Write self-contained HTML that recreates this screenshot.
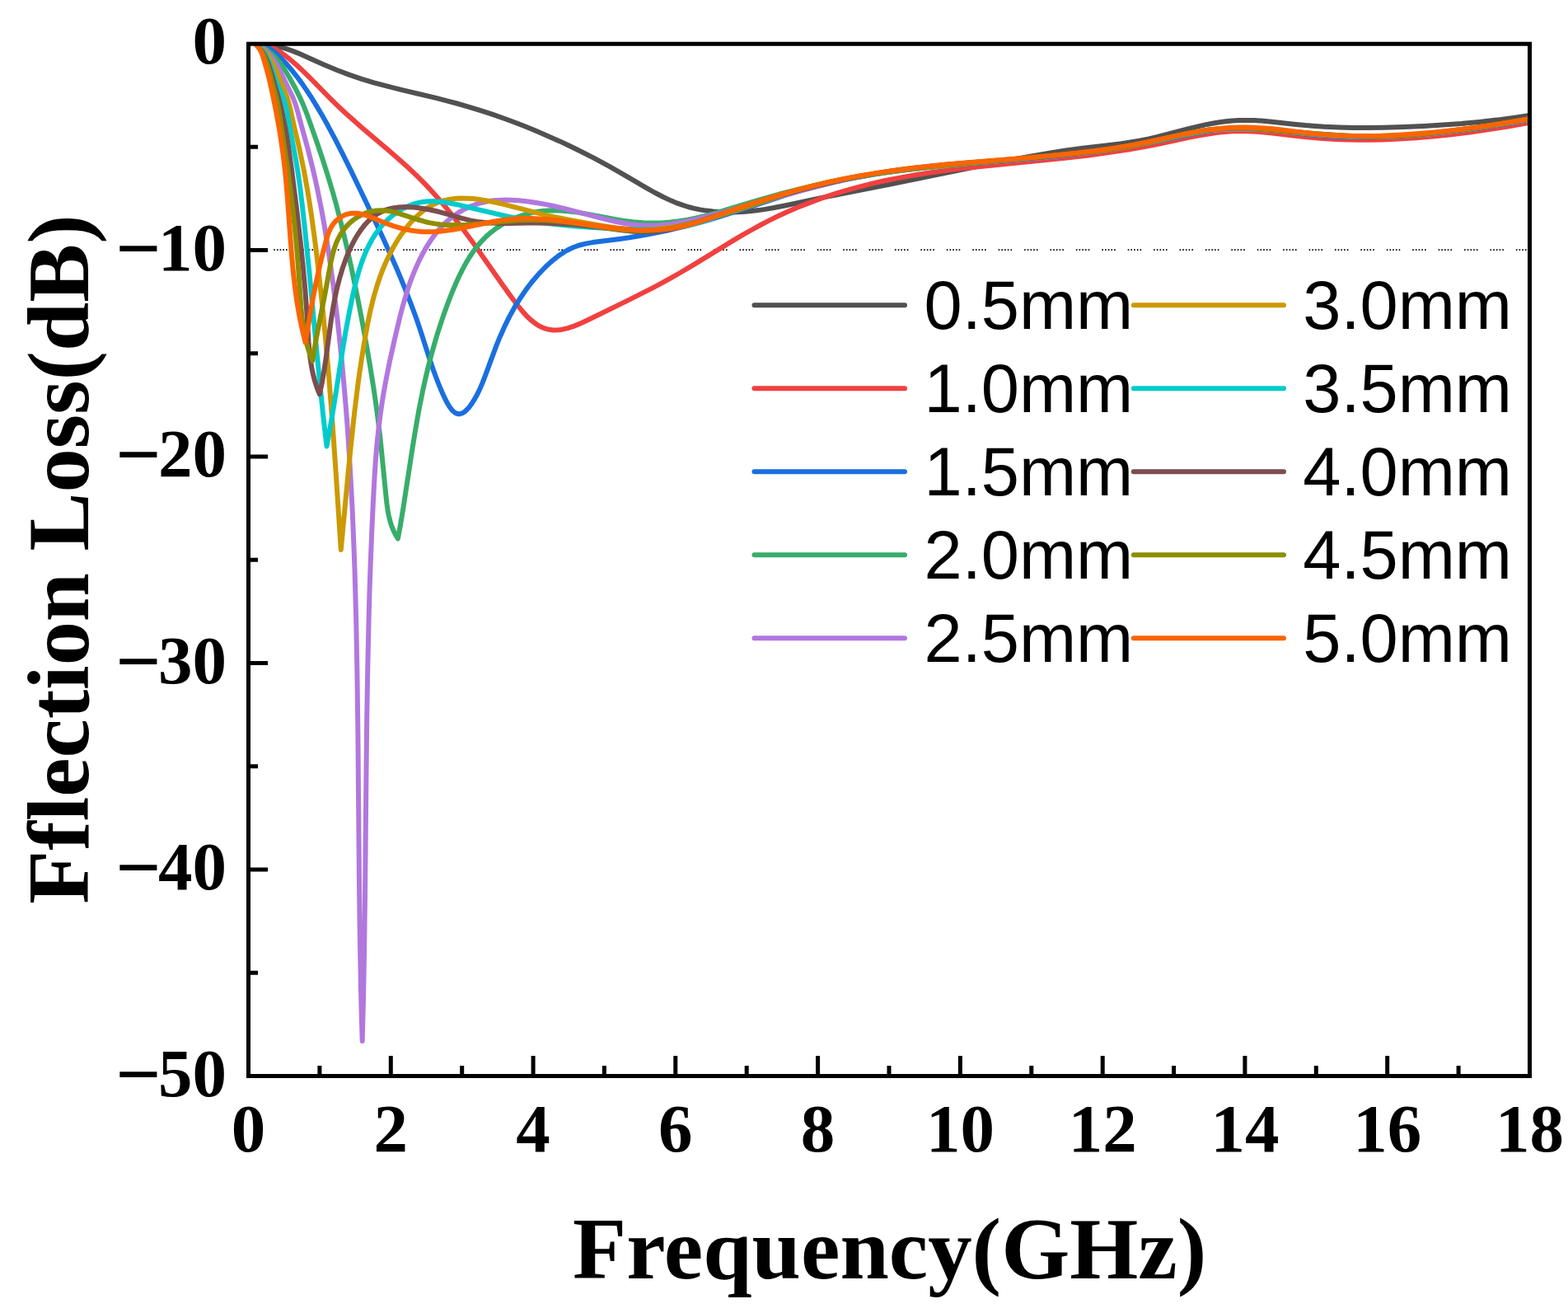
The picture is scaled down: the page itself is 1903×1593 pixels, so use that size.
<!DOCTYPE html>
<html lang="en"><head><meta charset="utf-8"><title>Reflection Loss vs Frequency</title>
<style>
html,body{margin:0;padding:0;background:#fff;}
body{width:1903px;height:1593px;overflow:hidden;}
svg{display:block;}
.tk{font-family:"Liberation Serif",serif;font-weight:bold;font-size:83px;fill:#000;}
.mn{font-size:97px;}
.ti{font-family:"Liberation Serif",serif;font-weight:bold;font-size:106.8px;fill:#000;}
.lg{font-family:"Liberation Sans",sans-serif;font-size:83px;fill:#000;}
.c{fill:none;stroke-width:6;stroke-linejoin:round;stroke-linecap:butt;}
</style></head><body>
<svg width="1903" height="1593" viewBox="0 0 1903 1593">
<rect x="0" y="0" width="1903" height="1593" fill="#fff"/>
<line x1="332.2" y1="303.1" x2="1854" y2="303.1" stroke="#000" stroke-width="1.8" stroke-dasharray="1.6,2.1,1.6,2.1,1.6,2.1,1.6,2.1,1.6,15.01"/>
<clipPath id="cp"><rect x="301.5" y="53" width="1555" height="1252.5"/></clipPath>
<g clip-path="url(#cp)">
<path class="c" stroke="#515151" d="M310.1,53.3 L314.2,53.2 L318.3,53.3 L322.4,53.6 L326.3,54.1 L330.3,54.7 L334.7,55.6 L339.0,56.6 L343.8,58.0 L352.3,60.8 L362.0,64.6 L370.8,68.4 L393.2,78.5 L409.4,85.2 L424.3,90.9 L439.0,95.8 L453.8,100.3 L470.2,104.7 L486.8,108.8 L530.2,119.2 L542.4,122.3 L554.5,125.5 L569.4,129.8 L584.2,134.4 L598.8,139.2 L613.9,144.5 L624.7,148.5 L635.8,152.8 L646.9,157.3 L657.9,161.9 L679.4,171.4 L690.2,176.5 L701.0,181.7 L720.6,191.6 L740.0,202.1 L756.1,211.3 L783.4,227.3 L794.3,233.5 L804.9,239.0 L814.8,243.6 L821.6,246.4 L828.6,248.9 L835.2,251.0 L842.5,252.9 L849.8,254.4 L857.2,255.6 L865.3,256.5 L873.3,257.2 L881.0,257.4 L888.6,257.5 L896.2,257.3 L904.3,256.8 L912.3,256.0 L920.3,255.1 L928.7,253.9 L938.1,252.3 L955.1,249.0 L986.7,242.2 L1003.8,238.6 L1081.5,223.4 L1194.1,200.3 L1216.6,195.9 L1237.8,191.9 L1266.3,186.9 L1292.0,182.8 L1314.3,179.8 L1347.1,176.0 L1359.5,174.4 L1372.3,172.5 L1384.1,170.5 L1393.4,168.6 L1404.1,166.1 L1441.5,156.3 L1456.2,152.8 L1464.0,151.1 L1471.3,149.7 L1478.7,148.5 L1485.7,147.6 L1495.1,146.6 L1504.0,146.1 L1513.0,145.9 L1522.0,146.1 L1530.9,146.6 L1540.9,147.4 L1572.8,150.9 L1584.3,152.1 L1595.7,153.0 L1607.7,153.8 L1624.7,154.5 L1642.2,154.9 L1660.2,155.0 L1679.7,154.7 L1703.7,154.0 L1728.2,153.0 L1751.1,151.6 L1773.6,150.0 L1795.5,147.9 L1816.4,145.6 L1836.7,142.9 L1856.5,139.9"/>
<path class="c" stroke="#F14040" d="M310.1,53.3 L314.8,53.5 L319.9,54.3 L324.7,55.6 L329.8,57.5 L334.7,59.9 L339.8,63.0 L345.1,66.7 L351.5,71.7 L359.8,78.8 L369.0,87.4 L377.9,96.2 L401.4,120.1 L409.6,128.1 L418.8,136.7 L428.1,145.1 L438.2,154.0 L470.9,181.8 L483.0,192.3 L494.5,202.6 L504.7,212.1 L510.8,218.1 L516.7,224.2 L522.6,230.4 L528.3,236.7 L534.3,243.5 L540.5,250.8 L552.8,266.1 L563.8,280.5 L575.6,296.6 L586.4,311.9 L609.7,345.2 L621.4,361.5 L628.9,371.4 L635.1,378.9 L639.8,384.0 L644.3,388.2 L648.7,391.7 L653.2,394.8 L657.5,397.0 L661.8,398.7 L666.2,399.8 L671.1,400.4 L674.2,400.5 L677.8,400.3 L681.0,399.9 L684.7,399.2 L688.3,398.3 L692.0,397.2 L696.2,395.8 L700.4,394.1 L706.5,391.5 L714.0,388.0 L761.2,364.9 L778.1,356.4 L791.0,349.9 L802.3,343.9 L813.2,337.9 L823.6,332.0 L842.8,320.6 L888.5,292.6 L900.2,285.7 L911.1,279.5 L922.1,273.5 L932.7,267.9 L943.0,262.8 L953.9,257.8 L967.7,251.8 L982.1,246.1 L996.7,240.7 L1011.8,235.6 L1026.6,231.1 L1042.0,226.8 L1057.5,222.9 L1073.6,219.3 L1092.2,215.6 L1111.3,212.2 L1132.1,209.0 L1153.9,206.1 L1173.3,203.8 L1195.2,201.4 L1267.6,194.3 L1294.4,191.5 L1321.2,188.4 L1345.4,185.1 L1369.1,181.5 L1391.7,177.5 L1409.4,174.0 L1443.8,166.6 L1458.6,163.8 L1473.0,161.5 L1479.9,160.6 L1486.3,159.9 L1495.7,159.3 L1504.7,159.0 L1514.6,159.2 L1525.1,159.7 L1534.0,160.4 L1544.0,161.4 L1578.0,165.4 L1590.9,166.8 L1605.4,168.1 L1620.4,169.0 L1634.3,169.5 L1648.8,169.8 L1663.3,169.8 L1678.2,169.5 L1698.2,168.6 L1718.7,167.3 L1739.6,165.5 L1761.5,163.2 L1783.9,160.4 L1807.2,157.1 L1831.4,153.2 L1856.5,148.8"/>
<path class="c" stroke="#1A6FDF" d="M310.1,53.3 L312.2,53.5 L314.8,53.9 L319.2,55.0 L321.5,55.9 L323.8,57.0 L328.0,59.5 L332.4,62.7 L337.0,66.6 L342.7,72.3 L348.8,78.9 L354.7,85.8 L360.6,93.3 L366.2,100.9 L372.2,109.6 L378.5,119.2 L385.0,129.9 L391.3,140.6 L397.9,152.3 L406.6,168.6 L415.9,186.8 L426.1,207.4 L443.1,242.7 L454.8,267.2 L464.6,288.2 L473.3,307.4 L481.4,325.7 L486.8,338.6 L492.1,351.6 L496.8,363.6 L501.4,375.7 L505.6,387.3 L509.6,398.9 L520.9,434.1 L525.8,448.5 L528.8,456.7 L531.6,464.0 L534.6,471.5 L537.7,478.4 L540.5,484.5 L543.0,489.3 L545.4,493.3 L547.7,496.4 L550.0,499.0 L552.2,500.7 L554.5,501.8 L556.5,502.2 L557.8,502.2 L558.9,502.0 L561.3,501.2 L563.7,499.7 L566.4,497.3 L569.4,494.0 L572.2,490.3 L575.1,485.7 L578.1,480.6 L581.8,473.1 L585.5,464.6 L588.8,456.1 L598.2,430.6 L602.6,418.9 L607.3,407.4 L612.0,396.9 L617.9,384.9 L624.3,373.2 L631.1,362.2 L638.1,351.9 L642.3,346.3 L646.3,341.2 L650.5,336.2 L654.9,331.3 L659.5,326.5 L663.8,322.2 L668.0,318.4 L672.2,314.8 L676.6,311.3 L680.7,308.4 L684.9,305.7 L688.8,303.5 L692.8,301.5 L696.8,299.8 L701.0,298.2 L705.2,297.0 L712.0,295.4 L719.3,294.1 L751.8,290.0 L763.7,288.3 L775.6,286.3 L786.9,284.3 L798.1,282.1 L809.3,279.8 L820.5,277.2 L832.6,274.3 L845.1,271.1 L857.6,267.6 L870.1,263.9 L893.0,256.7 L936.3,242.3 L954.4,236.4 L973.1,230.8 L990.0,226.1 L1001.1,223.3 L1012.8,220.6 L1024.5,218.1 L1036.7,215.7 L1049.0,213.5 L1061.8,211.3 L1075.2,209.3 L1088.6,207.5 L1113.9,204.4 L1141.3,201.6 L1173.3,198.8 L1237.2,193.7 L1263.5,191.5 L1291.4,188.7 L1316.7,185.8 L1330.5,183.9 L1344.4,181.9 L1358.7,179.5 L1374.0,176.9 L1400.6,171.9 L1447.2,162.6 L1462.0,159.8 L1475.8,157.7 L1488.2,156.4 L1498.1,155.8 L1508.1,155.6 L1519.1,155.9 L1530.7,156.5 L1540.7,157.3 L1551.7,158.5 L1585.9,162.7 L1597.8,164.0 L1609.3,165.1 L1619.7,165.8 L1631.7,166.2 L1644.2,166.4 L1658.8,166.4 L1674.3,166.0 L1695.8,165.1 L1717.7,163.8 L1740.2,161.9 L1762.6,159.6 L1785.4,156.7 L1808.7,153.4 L1832.4,149.6 L1856.5,145.3"/>
<path class="c" stroke="#37AD6B" d="M310.1,53.3 L313.5,54.7 L317.3,56.5 L320.3,58.3 L323.7,60.5 L326.9,62.9 L329.9,65.5 L332.7,68.2 L335.4,71.1 L338.0,74.1 L340.8,77.7 L343.4,81.3 L346.1,85.5 L351.8,95.0 L359.1,108.3 L363.6,117.3 L367.5,125.9 L371.6,136.1 L376.2,148.8 L384.4,171.9 L391.4,192.8 L397.6,212.3 L403.4,231.5 L408.1,248.3 L412.6,265.7 L417.2,284.2 L421.7,303.2 L426.1,323.2 L430.5,344.3 L435.2,367.4 L440.0,392.5 L445.1,420.5 L449.6,446.7 L453.6,471.9 L457.0,495.6 L459.2,512.5 L461.2,529.4 L463.1,547.8 L468.4,601.2 L469.5,611.2 L470.6,619.2 L471.6,624.6 L472.7,629.4 L474.0,634.2 L475.4,638.4 L477.0,642.5 L478.9,646.6 L480.8,650.1 L482.9,653.5 L486.2,635.6 L489.6,615.1 L500.0,547.2 L504.2,521.5 L508.5,496.9 L513.0,474.5 L516.2,459.9 L519.5,446.0 L523.0,432.5 L526.7,419.1 L530.5,406.2 L534.6,393.3 L538.8,381.0 L543.3,368.6 L548.1,356.2 L552.4,345.8 L556.8,336.0 L561.1,327.3 L565.4,319.3 L570.1,311.5 L574.8,304.5 L579.6,298.3 L584.8,292.3 L589.9,287.1 L595.4,282.3 L601.6,277.5 L607.7,273.5 L614.5,269.6 L621.5,266.1 L628.8,263.1 L634.4,261.2 L640.6,259.4 L646.9,257.9 L652.7,256.8 L659.1,256.0 L665.1,255.5 L671.0,255.3 L677.5,255.4 L683.0,255.7 L689.0,256.2 L695.5,256.9 L702.0,257.9 L715.1,260.1 L748.7,266.5 L758.7,268.1 L768.2,269.3 L780.1,270.2 L791.4,270.6 L802.7,270.4 L814.0,269.6 L824.2,268.3 L834.4,266.6 L845.1,264.5 L856.7,261.7 L866.3,259.1 L876.9,256.0 L915.0,244.4 L931.5,239.6 L951.8,234.0 L972.2,228.9 L990.3,224.8 L1008.4,220.9 L1027.0,217.3 L1045.7,214.0 L1064.9,210.9 L1084.2,208.1 L1103.5,205.6 L1123.8,203.3 L1142.8,201.4 L1163.7,199.5 L1237.6,193.4 L1267.0,190.8 L1296.8,187.8 L1324.6,184.4 L1350.3,180.8 L1374.9,176.7 L1397.1,172.5 L1431.5,165.1 L1445.8,162.3 L1460.1,159.8 L1473.4,157.9 L1484.3,156.8 L1494.7,156.2 L1505.6,156.0 L1517.6,156.2 L1528.5,156.8 L1541.0,157.7 L1554.0,158.9 L1593.9,162.9 L1607.9,164.0 L1621.4,164.9 L1637.8,165.7 L1653.8,166.0 L1669.8,166.1 L1685.7,165.7 L1703.2,164.9 L1721.2,163.7 L1740.1,161.9 L1760.0,159.7 L1780.4,157.1 L1802.8,153.8 L1827.0,150.0 L1856.5,145.1"/>
<path class="c" stroke="#B177DE" d="M310.1,53.3 L313.5,55.0 L317.1,57.1 L319.9,59.2 L323.0,61.8 L325.8,64.5 L328.4,67.5 L331.0,71.0 L333.5,74.7 L336.3,79.4 L339.1,84.7 L354.0,115.0 L356.0,119.5 L357.6,123.7 L359.2,128.4 L360.8,133.7 L366.0,153.0 L373.2,179.1 L378.5,199.9 L381.7,213.5 L384.8,227.7 L387.8,242.4 L390.7,257.1 L393.6,273.4 L396.4,290.2 L399.1,307.5 L401.7,325.8 L404.4,345.7 L407.0,366.5 L409.6,387.9 L411.9,409.3 L415.2,441.6 L418.2,474.9 L421.0,508.8 L423.4,543.2 L425.5,578.7 L427.5,615.6 L429.1,653.6 L430.6,693.6 L432.2,751.6 L433.4,814.7 L434.4,889.8 L435.8,1051.0 L436.6,1121.6 L437.9,1196.1 L438.7,1230.0 L439.7,1263.0 L441.1,1208.0 L442.2,1147.5 L443.1,1079.0 L444.5,935.9 L445.2,874.3 L446.3,809.3 L447.6,750.8 L448.6,713.8 L449.9,678.3 L451.3,643.9 L452.8,610.9 L454.3,583.0 L455.7,561.0 L457.3,541.1 L459.1,523.2 L461.6,502.8 L464.5,483.0 L468.3,461.7 L472.8,439.1 L479.1,410.8 L486.0,381.9 L488.5,372.4 L491.1,363.3 L493.7,354.8 L496.3,346.7 L498.8,339.6 L501.4,333.0 L504.1,326.4 L507.0,319.9 L509.8,313.9 L512.9,308.0 L515.8,302.6 L519.0,297.4 L522.3,292.3 L525.5,287.8 L529.1,283.0 L532.6,278.7 L536.3,274.7 L540.1,270.8 L544.1,267.2 L547.8,264.0 L551.8,261.1 L555.4,258.6 L559.2,256.3 L563.5,253.9 L567.5,252.0 L572.0,250.0 L576.6,248.3 L580.9,246.9 L585.2,245.8 L589.5,244.8 L594.0,244.0 L598.9,243.3 L603.9,242.9 L608.9,242.7 L613.9,242.6 L619.5,242.7 L630.0,243.3 L640.9,244.5 L652.3,246.2 L664.5,248.4 L675.2,250.8 L687.4,253.7 L725.6,263.7 L737.4,266.6 L749.3,269.3 L759.8,271.2 L765.7,272.1 L771.2,272.8 L776.6,273.3 L782.1,273.6 L787.5,273.7 L792.9,273.6 L798.8,273.4 L804.7,272.9 L814.1,271.9 L824.3,270.3 L835.1,268.2 L847.2,265.5 L858.9,262.5 L874.4,258.4 L954.5,236.1 L973.8,230.9 L990.8,226.5 L1010.6,221.6 L1029.1,217.4 L1046.7,213.8 L1063.4,210.7 L1079.1,208.1 L1096.0,205.8 L1113.8,203.6 L1132.7,201.6 L1150.2,199.9 L1169.7,198.3 L1239.3,193.3 L1267.2,191.1 L1296.0,188.3 L1321.8,185.3 L1345.0,182.0 L1366.6,178.3 L1385.8,174.4 L1421.2,166.5 L1435.9,163.4 L1451.2,160.6 L1465.0,158.6 L1476.9,157.4 L1489.3,156.7 L1502.7,156.4 L1516.7,156.7 L1529.6,157.2 L1543.6,158.1 L1602.9,163.2 L1617.9,164.3 L1631.4,165.1 L1645.8,165.8 L1659.8,166.1 L1673.3,166.1 L1686.7,165.8 L1703.2,165.0 L1720.2,163.8 L1738.1,162.1 L1757.1,160.0 L1776.5,157.4 L1797.3,154.4 L1820.1,150.9 L1856.5,145.0"/>
<path class="c" stroke="#CC9900" d="M310.1,53.3 L312.8,55.0 L315.4,56.8 L317.7,58.7 L320.3,61.2 L322.3,63.4 L324.5,66.0 L326.5,68.8 L328.6,72.2 L331.6,77.9 L334.5,84.2 L340.8,99.7 L346.0,112.2 L348.4,118.2 L350.3,124.4 L352.1,131.2 L356.8,152.7 L361.7,173.1 L364.2,184.3 L369.0,207.3 L373.3,231.5 L376.1,248.8 L378.8,267.1 L381.5,286.9 L384.3,308.8 L387.0,332.2 L389.7,356.6 L392.3,381.5 L394.7,406.9 L399.1,456.7 L403.4,512.1 L407.6,572.1 L413.8,667.0 L422.9,570.3 L426.1,538.5 L430.0,502.3 L434.0,469.6 L436.5,451.3 L439.1,434.0 L441.8,417.2 L444.6,401.4 L447.0,388.6 L449.5,376.8 L452.1,366.1 L454.8,356.0 L458.0,345.5 L461.3,335.5 L465.1,325.7 L469.0,316.6 L473.2,308.0 L477.7,299.5 L482.6,291.2 L487.7,283.6 L492.9,276.6 L498.5,269.9 L504.0,264.1 L509.5,259.1 L515.3,254.5 L520.9,250.8 L526.8,247.7 L529.8,246.3 L532.9,245.1 L537.9,243.5 L543.0,242.3 L548.6,241.4 L554.4,240.8 L560.3,240.6 L566.8,240.7 L573.3,241.1 L580.0,241.8 L586.1,242.7 L592.2,243.7 L598.9,245.0 L606.5,246.7 L621.0,250.3 L655.2,259.2 L664.2,261.4 L672.8,263.3 L693.1,267.3 L728.2,273.4 L739.2,275.2 L748.3,276.5 L756.8,277.5 L764.9,278.2 L772.4,278.6 L779.9,278.7 L787.3,278.5 L795.2,278.1 L807.5,276.8 L813.9,275.9 L820.8,274.8 L834.4,272.1 L848.9,268.6 L863.3,264.6 L879.6,259.6 L896.8,254.1 L944.3,238.3 L959.1,233.6 L972.0,229.8 L987.5,225.6 L1003.0,221.9 L1019.1,218.4 L1036.4,215.2 L1055.6,211.9 L1076.9,208.8 L1099.2,205.9 L1123.6,203.1 L1145.5,200.9 L1169.4,198.7 L1251.1,191.7 L1282.5,188.9 L1310.8,186.0 L1335.1,183.1 L1356.8,179.9 L1377.1,176.4 L1394.3,172.9 L1427.2,165.4 L1440.9,162.5 L1455.7,159.7 L1468.5,157.8 L1479.4,156.7 L1490.8,156.0 L1502.7,155.8 L1515.1,156.0 L1526.1,156.6 L1538.6,157.4 L1593.0,162.5 L1608.5,163.7 L1623.4,164.6 L1639.9,165.4 L1655.8,165.8 L1670.8,165.8 L1685.7,165.5 L1702.7,164.7 L1720.7,163.4 L1739.6,161.7 L1759.1,159.5 L1779.5,156.9 L1801.3,153.7 L1825.5,149.9 L1856.5,144.8"/>
<path class="c" stroke="#00CBCC" d="M310.1,53.3 L312.3,54.9 L314.3,56.6 L316.2,58.3 L318.2,60.6 L319.7,62.5 L321.5,64.9 L324.4,70.0 L326.3,74.0 L328.2,78.6 L333.6,94.3 L335.5,99.5 L342.2,114.7 L344.5,120.7 L346.5,127.4 L348.4,135.6 L352.5,158.9 L359.1,194.3 L361.8,210.6 L364.3,228.4 L367.0,250.7 L370.2,279.6 L375.7,333.3 L384.8,430.5 L388.5,468.4 L392.5,506.7 L396.5,541.5 L399.7,524.4 L403.0,505.5 L406.5,483.9 L416.5,420.3 L420.0,399.8 L423.4,381.6 L427.7,360.1 L431.7,343.0 L433.7,335.6 L435.6,328.6 L437.8,321.8 L440.0,315.5 L442.6,308.9 L445.4,302.4 L448.5,296.2 L451.6,290.5 L454.9,285.1 L458.6,279.9 L462.2,275.2 L466.2,270.8 L470.7,266.3 L475.2,262.5 L479.8,258.9 L484.7,255.6 L489.8,252.7 L494.7,250.4 L500.1,248.2 L505.2,246.6 L509.4,245.6 L513.2,244.9 L517.1,244.4 L521.4,244.2 L525.8,244.1 L530.3,244.4 L535.2,244.8 L540.2,245.5 L547.2,246.7 L554.8,248.2 L603.1,259.7 L616.7,262.7 L628.8,265.2 L641.5,267.5 L653.7,269.5 L666.6,271.2 L680.4,272.8 L695.4,274.2 L711.4,275.4 L728.9,276.5 L748.0,277.3 L771.7,278.2 L784.7,278.5 L796.2,278.4 L806.1,277.9 L816.0,276.9 L826.2,275.2 L836.8,272.9 L847.9,269.9 L856.9,267.1 L866.4,264.0 L902.9,250.9 L921.5,244.7 L943.5,237.8 L965.7,231.6 L984.6,226.7 L1004.0,222.2 L1023.6,218.0 L1043.7,214.1 L1063.4,210.8 L1083.6,207.7 L1103.9,205.0 L1125.8,202.5 L1145.2,200.6 L1167.2,198.6 L1242.6,192.5 L1272.5,189.9 L1302.3,186.9 L1329.5,183.6 L1354.2,180.0 L1377.9,176.0 L1398.1,172.0 L1432.0,164.5 L1445.3,161.8 L1459.1,159.2 L1471.9,157.3 L1482.8,156.2 L1493.2,155.5 L1504.1,155.3 L1515.6,155.6 L1526.5,156.2 L1538.5,157.1 L1551.5,158.3 L1590.4,162.5 L1603.4,163.6 L1616.9,164.5 L1633.3,165.2 L1649.8,165.6 L1666.3,165.6 L1683.2,165.3 L1701.7,164.5 L1721.2,163.1 L1741.1,161.4 L1761.5,159.1 L1782.9,156.4 L1805.7,153.1 L1829.9,149.3 L1856.5,144.7"/>
<path class="c" stroke="#7D4E4E" d="M310.1,53.3 L312.7,55.8 L315.1,58.5 L317.3,61.3 L319.5,64.6 L321.4,68.0 L323.2,71.5 L324.8,75.2 L326.4,79.4 L329.3,88.4 L337.4,116.4 L339.4,123.7 L341.3,131.0 L342.9,138.3 L346.3,155.4 L348.2,166.3 L350.1,178.1 L353.9,204.9 L360.4,256.6 L365.2,298.3 L368.0,325.7 L370.3,351.1 L372.2,376.6 L374.5,414.7 L375.4,424.7 L376.4,433.6 L377.3,440.0 L378.3,445.9 L379.4,451.8 L380.8,457.6 L382.4,463.4 L384.1,468.6 L386.0,473.8 L387.9,478.5 L390.9,464.0 L393.6,448.1 L395.9,432.3 L401.8,388.7 L403.9,375.5 L406.0,363.8 L408.9,350.2 L412.1,337.6 L415.7,325.6 L419.8,314.0 L422.6,307.2 L425.3,301.0 L428.3,294.9 L431.2,289.5 L434.4,284.2 L437.5,279.6 L440.8,275.2 L443.9,271.5 L447.3,268.0 L450.8,264.8 L454.5,261.9 L458.4,259.3 L462.1,257.3 L465.9,255.5 L469.9,254.1 L474.5,252.9 L478.3,252.2 L482.7,251.6 L487.2,251.2 L491.7,251.1 L496.3,251.2 L501.5,251.5 L506.7,252.0 L512.0,252.7 L521.9,254.5 L532.1,256.8 L541.5,259.3 L560.7,264.8 L569.9,267.2 L574.5,268.1 L579.3,269.0 L589.0,270.1 L597.0,270.6 L606.2,270.9 L616.5,270.9 L640.2,270.6 L651.4,270.6 L665.3,270.8 L679.6,271.4 L696.7,272.5 L714.3,274.2 L730.2,276.0 L755.9,279.5 L767.6,280.7 L774.2,281.1 L780.7,281.3 L786.7,281.2 L793.2,280.9 L802.5,279.8 L812.3,278.2 L822.5,276.0 L833.5,273.1 L849.2,268.3 L889.2,255.0 L916.9,246.2 L944.7,237.9 L971.7,230.4 L992.0,225.2 L1012.0,220.5 L1031.0,216.4 L1050.1,212.7 L1068.8,209.5 L1087.6,206.7 L1107.9,204.1 L1129.3,201.7 L1148.7,199.8 L1170.7,197.9 L1245.2,192.2 L1274.1,189.8 L1302.9,186.9 L1328.1,183.9 L1350.4,180.7 L1371.1,177.1 L1388.8,173.5 L1422.7,165.8 L1436.4,162.8 L1451.2,160.0 L1464.5,158.0 L1476.4,156.8 L1488.3,156.0 L1501.2,155.8 L1515.1,156.0 L1527.1,156.5 L1540.6,157.4 L1598.9,162.5 L1614.4,163.6 L1628.9,164.5 L1644.3,165.2 L1658.8,165.6 L1672.7,165.6 L1686.7,165.2 L1703.2,164.5 L1720.7,163.2 L1738.6,161.5 L1758.1,159.3 L1778.0,156.8 L1799.3,153.7 L1823.0,150.0 L1856.5,144.5"/>
<path class="c" stroke="#8E8E00" d="M310.1,53.3 L312.2,55.6 L314.2,57.9 L316.0,60.4 L317.8,63.3 L319.3,66.0 L320.8,69.1 L322.2,72.2 L323.6,76.0 L325.0,80.2 L326.6,85.5 L330.5,100.7 L334.5,115.2 L336.3,123.0 L338.0,131.3 L340.0,143.7 L349.4,206.6 L352.6,230.4 L355.4,254.3 L358.0,278.2 L360.3,302.6 L362.5,331.2 L365.4,372.8 L366.4,383.3 L367.5,392.7 L368.4,399.2 L369.5,405.0 L370.7,410.9 L372.1,416.7 L373.7,422.4 L375.4,427.7 L377.4,432.8 L379.3,437.5 L381.5,423.7 L384.1,408.9 L394.9,354.2 L401.3,319.2 L402.9,312.0 L404.4,306.0 L406.2,300.1 L408.1,294.8 L409.7,291.1 L411.5,287.6 L413.4,284.1 L415.5,280.8 L417.5,278.1 L420.0,275.1 L422.7,272.2 L425.5,269.6 L428.5,267.1 L431.6,264.9 L434.9,262.8 L438.2,261.0 L441.7,259.4 L445.2,258.1 L448.9,257.0 L452.1,256.2 L457.3,255.4 L462.6,255.2 L468.0,255.5 L473.9,256.4 L479.3,257.6 L485.3,259.3 L507.2,266.5 L516.6,269.2 L522.0,270.4 L527.9,271.4 L533.8,272.2 L540.1,272.8 L545.9,273.0 L551.8,273.1 L558.2,273.1 L565.1,272.8 L580.0,271.8 L612.2,268.7 L626.3,267.6 L633.8,267.2 L641.2,267.0 L648.7,266.9 L656.1,267.0 L663.5,267.3 L671.0,267.7 L678.4,268.4 L685.9,269.2 L700.3,271.1 L736.9,276.6 L747.4,278.0 L756.4,278.9 L766.3,279.6 L775.3,279.9 L784.2,279.8 L793.1,279.3 L804.4,278.1 L816.7,276.2 L829.3,273.5 L842.4,270.3 L855.9,266.5 L871.8,261.6 L888.9,256.0 L937.8,239.7 L953.1,234.8 L966.9,230.7 L982.8,226.4 L999.3,222.3 L1016.5,218.6 L1034.7,215.1 L1055.4,211.6 L1077.7,208.3 L1101.5,205.2 L1126.9,202.2 L1149.8,199.9 L1175.7,197.5 L1259.4,190.5 L1289.3,187.8 L1314.1,185.3 L1336.0,182.7 L1355.8,179.8 L1374.5,176.5 L1391.2,173.0 L1424.1,165.4 L1437.8,162.4 L1452.6,159.6 L1465.4,157.6 L1476.8,156.5 L1488.7,155.7 L1501.6,155.5 L1515.0,155.7 L1527.0,156.3 L1540.0,157.2 L1597.9,162.2 L1613.4,163.4 L1627.8,164.3 L1643.3,165.0 L1658.2,165.4 L1672.2,165.4 L1686.2,165.0 L1703.2,164.2 L1720.6,163.0 L1738.6,161.3 L1758.0,159.1 L1778.0,156.6 L1799.3,153.5 L1823.1,149.8 L1856.5,144.3"/>
<path class="c" stroke="#FB6501" d="M310.1,53.3 L310.6,54.2 L312.8,56.5 L314.4,58.5 L315.8,60.6 L317.1,63.3 L318.2,66.1 L319.5,69.8 L323.2,82.3 L327.1,97.3 L330.9,114.5 L335.3,136.1 L339.1,157.3 L341.3,171.6 L343.4,186.0 L345.1,199.9 L346.7,214.4 L349.0,241.8 L352.6,291.4 L354.1,310.4 L355.8,329.4 L357.8,346.8 L360.3,365.6 L363.3,383.3 L366.8,399.9 L370.6,415.5 L374.5,392.2 L377.7,373.5 L380.9,356.4 L384.2,340.2 L387.7,324.1 L391.3,309.0 L395.5,292.9 L397.9,284.7 L400.1,279.2 L402.4,274.8 L404.9,271.1 L406.5,269.2 L408.0,267.8 L411.6,264.8 L413.8,263.3 L416.0,262.0 L418.3,260.9 L420.2,260.2 L422.1,259.6 L424.4,259.1 L427.7,258.7 L431.5,258.7 L435.3,259.0 L439.6,259.9 L443.8,261.1 L449.1,262.9 L464.3,269.3 L471.0,271.9 L477.3,274.1 L483.1,275.8 L490.8,277.9 L498.6,279.5 L506.4,280.6 L513.7,281.2 L520.0,281.3 L526.9,281.2 L533.8,280.7 L541.2,279.8 L549.1,278.7 L557.5,277.2 L591.2,270.2 L605.6,267.6 L613.6,266.5 L621.0,265.8 L628.9,265.3 L636.9,265.1 L645.3,265.1 L654.2,265.5 L663.6,266.1 L673.5,267.1 L691.9,269.3 L736.9,275.7 L748.9,277.1 L759.9,278.1 L771.4,278.9 L782.4,279.2 L792.3,279.1 L802.1,278.6 L811.9,277.5 L821.7,276.0 L831.8,273.8 L842.8,270.8 L851.4,268.2 L860.5,265.2 L897.0,252.2 L918.5,245.0 L942.5,237.6 L966.1,230.9 L985.5,225.8 L1004.9,221.2 L1024.4,217.0 L1044.0,213.3 L1062.7,210.1 L1081.9,207.2 L1102.2,204.5 L1124.1,202.0 L1143.5,200.1 L1165.4,198.1 L1241.3,191.9 L1271.3,189.3 L1301.6,186.2 L1328.5,183.0 L1352.2,179.6 L1374.4,175.9 L1393.6,172.2 L1428.8,164.6 L1443.5,161.7 L1458.7,158.9 L1472.4,156.9 L1484.8,155.6 L1496.7,154.8 L1509.2,154.5 L1522.2,154.8 L1534.1,155.4 L1547.1,156.6 L1559.5,158.0 L1592.7,162.3 L1603.2,163.3 L1613.7,164.1 L1627.7,164.8 L1642.7,165.1 L1658.8,165.1 L1675.8,164.7 L1697.3,163.7 L1719.3,162.3 L1741.7,160.4 L1764.0,158.1 L1786.8,155.3 L1809.6,152.0 L1832.8,148.2 L1856.5,144.0"/>
</g>
<rect x="301.5" y="53.25" width="1555" height="1252.25" fill="none" stroke="#000" stroke-width="5"/>
<path d="M301.5,303.5 H325 M301.5,554.0 H325 M301.5,804.5 H325 M301.5,1055.0 H325 M301.5,178.2 H313 M301.5,428.8 H313 M301.5,679.2 H313 M301.5,929.8 H313 M301.5,1180.2 H313 M474.3,1305.5 V1281 M647.1,1305.5 V1281 M819.8,1305.5 V1281 M992.6,1305.5 V1281 M1165.4,1305.5 V1281 M1338.2,1305.5 V1281 M1510.9,1305.5 V1281 M1683.7,1305.5 V1281 M387.9,1305.5 V1293 M560.7,1305.5 V1293 M733.4,1305.5 V1293 M906.2,1305.5 V1293 M1079.0,1305.5 V1293 M1251.8,1305.5 V1293 M1424.6,1305.5 V1293 M1597.3,1305.5 V1293 M1770.1,1305.5 V1293" fill="none" stroke="#000" stroke-width="5"/>
<text class="tk" x="275" y="77.0" text-anchor="end">0</text>
<text class="tk" x="275" y="327.5" text-anchor="end"><tspan class="mn" dy="6.1">−</tspan><tspan dy="-6.1" dx="-3.6">10</tspan></text>
<text class="tk" x="275" y="578.0" text-anchor="end"><tspan class="mn" dy="6.1">−</tspan><tspan dy="-6.1" dx="-3.6">20</tspan></text>
<text class="tk" x="275" y="828.5" text-anchor="end"><tspan class="mn" dy="6.1">−</tspan><tspan dy="-6.1" dx="-3.6">30</tspan></text>
<text class="tk" x="275" y="1079.0" text-anchor="end"><tspan class="mn" dy="6.1">−</tspan><tspan dy="-6.1" dx="-3.6">40</tspan></text>
<text class="tk" x="275" y="1329.5" text-anchor="end"><tspan class="mn" dy="6.1">−</tspan><tspan dy="-6.1" dx="-3.6">50</tspan></text>
<text class="tk" x="301.5" y="1397" text-anchor="middle">0</text>
<text class="tk" x="474.3" y="1397" text-anchor="middle">2</text>
<text class="tk" x="647.1" y="1397" text-anchor="middle">4</text>
<text class="tk" x="819.8" y="1397" text-anchor="middle">6</text>
<text class="tk" x="992.6" y="1397" text-anchor="middle">8</text>
<text class="tk" x="1165.4" y="1397" text-anchor="middle">10</text>
<text class="tk" x="1338.2" y="1397" text-anchor="middle">12</text>
<text class="tk" x="1510.9" y="1397" text-anchor="middle">14</text>
<text class="tk" x="1683.7" y="1397" text-anchor="middle">16</text>
<text class="tk" x="1856.5" y="1397" text-anchor="middle">18</text>
<text class="ti" x="1079.7" y="1551" text-anchor="middle">Frequency(GHz)</text>
<text class="ti" style="font-size:106.4px" transform="translate(106.8,678.6) rotate(-90)" text-anchor="middle">Fflection Loss(dB)</text>
<line x1="915.5" y1="370.2" x2="1098" y2="370.2" stroke="#515151" stroke-width="6" stroke-linecap="round"/>
<text class="lg" x="1121.5" y="398.7">0.5mm</text>
<line x1="915.5" y1="471.2" x2="1098" y2="471.2" stroke="#F14040" stroke-width="6" stroke-linecap="round"/>
<text class="lg" x="1121.5" y="499.7">1.0mm</text>
<line x1="915.5" y1="572.2" x2="1098" y2="572.2" stroke="#1A6FDF" stroke-width="6" stroke-linecap="round"/>
<text class="lg" x="1121.5" y="600.7">1.5mm</text>
<line x1="915.5" y1="673.2" x2="1098" y2="673.2" stroke="#37AD6B" stroke-width="6" stroke-linecap="round"/>
<text class="lg" x="1121.5" y="701.7">2.0mm</text>
<line x1="915.5" y1="774.2" x2="1098" y2="774.2" stroke="#B177DE" stroke-width="6" stroke-linecap="round"/>
<text class="lg" x="1121.5" y="802.7">2.5mm</text>
<line x1="1375.8" y1="370.2" x2="1558" y2="370.2" stroke="#CC9900" stroke-width="6" stroke-linecap="round"/>
<text class="lg" x="1581.3" y="398.7">3.0mm</text>
<line x1="1375.8" y1="471.2" x2="1558" y2="471.2" stroke="#00CBCC" stroke-width="6" stroke-linecap="round"/>
<text class="lg" x="1581.3" y="499.7">3.5mm</text>
<line x1="1375.8" y1="572.2" x2="1558" y2="572.2" stroke="#7D4E4E" stroke-width="6" stroke-linecap="round"/>
<text class="lg" x="1581.3" y="600.7">4.0mm</text>
<line x1="1375.8" y1="673.2" x2="1558" y2="673.2" stroke="#8E8E00" stroke-width="6" stroke-linecap="round"/>
<text class="lg" x="1581.3" y="701.7">4.5mm</text>
<line x1="1375.8" y1="774.2" x2="1558" y2="774.2" stroke="#FB6501" stroke-width="6" stroke-linecap="round"/>
<text class="lg" x="1581.3" y="802.7">5.0mm</text>
</svg>
</body></html>
